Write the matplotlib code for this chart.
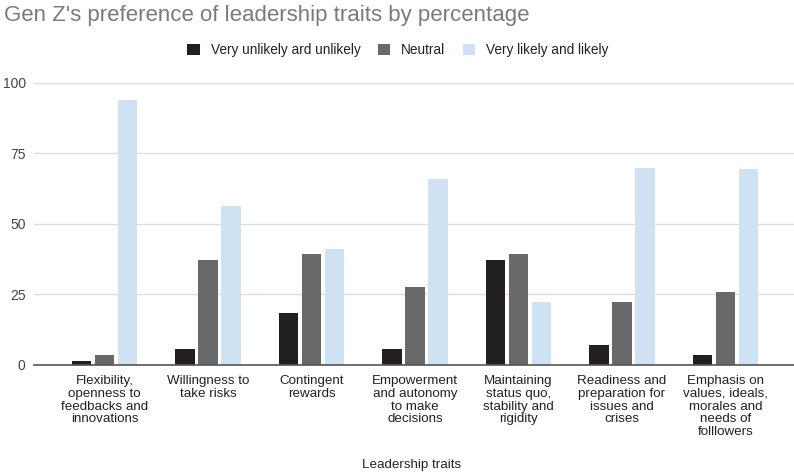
import matplotlib
matplotlib.use("Agg")
import matplotlib.pyplot as plt
import numpy as np

categories = [
    "Flexibility,\nopenness to\nfeedbacks and\ninnovations",
    "Willingness to\ntake risks",
    "Contingent\nrewards",
    "Empowerment\nand autonomy\nto make\ndecisions",
    "Maintaining\nstatus quo,\nstability and\nrigidity",
    "Readiness and\npreparation for\nissues and\ncrises",
    "Emphasis on\nvalues, ideals,\nmorales and\nneeds of\nfolllowers",
]
series_names = ["Very unlikely ard unlikely", "Neutral", "Very likely and likely"]
unlikely = [1.5, 5.5, 18.3, 5.5, 37.1, 7.1, 3.5]
neutral = [3.5, 37.3, 39.2, 27.7, 39.2, 22.2, 25.9]
likely = [93.9, 56.3, 41.2, 65.8, 22.2, 69.7, 69.5]
yticks = [0, 25, 50, 75, 100]

colors = ["#231f20", "#69696c", "#cfe2f3"]

plt.rcParams["font.family"] = ["Liberation Sans", "DejaVu Sans"]

W, H = 794, 475
fig = plt.figure(figsize=(W / 100, H / 100), dpi=100)
ax = fig.add_axes([34 / W, (H - 365) / H, (794 - 34) / W, (365 - 82.7) / H])

x = np.arange(len(categories))
step = 0.222
bw = 0.188
for i, (vals, name) in enumerate(zip([unlikely, neutral, likely], series_names)):
    ax.bar(x + (i - 1) * step, vals, width=bw, color=colors[i], label=name,
           zorder=3, linewidth=0)

ax.set_xlim(-0.681, 6.662)
ax.set_ylim(0, 100)
ax.set_yticks(yticks)
ax.set_yticklabels([str(t) for t in yticks], fontsize=10, color="#444444")
ax.set_xticks(x)
ax.set_xticklabels(categories, fontsize=9.6, color="#222222", linespacing=1.1)
ax.tick_params(axis="both", length=0)
ax.tick_params(axis="y", pad=6)
ax.tick_params(axis="x", pad=7)

ax.grid(axis="y", color="#dcdcdc", linewidth=1, zorder=0)
for s in ["top", "right", "left"]:
    ax.spines[s].set_visible(False)
ax.spines["bottom"].set_color("#555555")
ax.spines["bottom"].set_linewidth(1.2)
ax.spines["bottom"].set_zorder(4)

fig.text(4 / W, 1 - 16 / H, "Gen Z's preference of leadership traits by percentage",
         fontsize=16, color="#7a7a7a", va="center", ha="left")

leg = fig.legend(loc="center", bbox_to_anchor=(398 / W, 1 - 50 / H), ncol=3,
                 frameon=False, fontsize=9.8, handlelength=0.9, handleheight=0.9,
                 columnspacing=1.3, handletextpad=0.8)
for t in leg.get_texts():
    t.set_color("#222222")

fig.text(412 / W, 1 - 465 / H, "Leadership traits", fontsize=9.6, color="#222222",
         ha="center", va="center")

fig.savefig("out.png", dpi=100, facecolor="white")
